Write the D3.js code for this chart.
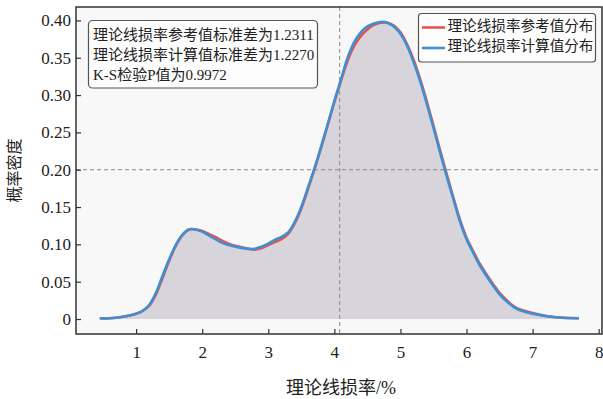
<!DOCTYPE html>
<html>
<head>
<meta charset="utf-8">
<script src="https://cdn.jsdelivr.net/npm/d3@7"></script>
<style>
  body { margin: 0; background: #fff; }
  svg { display: block; }
  text { font-family: "Liberation Serif", "Noto Sans CJK SC", serif; fill: #222; }
</style>
</head>
<body>
<div id="chart"></div>
<script>
const width = 603, height = 399;
const margin = { top: 7, right: 1, bottom: 65, left: 76 };

// 理论线损率 (%)
const rates = [0.45, 0.6, 0.8, 1.0, 1.1, 1.2, 1.3, 1.4, 1.5, 1.6, 1.7, 1.8, 1.9, 2.0, 2.1, 2.2, 2.3, 2.4, 2.5,
  2.6, 2.7, 2.8, 2.9, 3.0, 3.1, 3.2, 3.3, 3.4, 3.5, 3.6, 3.7, 3.8, 3.9, 4.0, 4.1, 4.2, 4.3, 4.4, 4.5,
  4.6, 4.7, 4.8, 4.9, 5.0, 5.1, 5.2, 5.3, 5.4, 5.5, 5.6, 5.7, 5.8, 5.9, 6.0, 6.1, 6.2, 6.3, 6.4, 6.5,
  6.6, 6.7, 6.8, 7.0, 7.2, 7.4, 7.7];
const refDensity = [0.001, 0.001, 0.003, 0.007, 0.011, 0.018, 0.033, 0.055, 0.078, 0.098, 0.112, 0.120, 0.120, 0.118, 0.114, 0.110, 0.105, 0.101, 0.098,
  0.096, 0.094, 0.093, 0.095, 0.099, 0.103, 0.107, 0.114, 0.128, 0.148, 0.174, 0.201, 0.230, 0.260, 0.291, 0.319, 0.346, 0.366, 0.379, 0.388,
  0.394, 0.397, 0.397, 0.393, 0.384, 0.368, 0.347, 0.321, 0.291, 0.259, 0.226, 0.194, 0.163, 0.133, 0.109, 0.091, 0.074, 0.060, 0.047, 0.035,
  0.026, 0.018, 0.013, 0.008, 0.004, 0.002, 0.001];
const calcDensity = [0.001, 0.001, 0.003, 0.007, 0.011, 0.019, 0.035, 0.058, 0.080, 0.099, 0.113, 0.120, 0.120, 0.117, 0.112, 0.107, 0.102, 0.099, 0.097,
  0.095, 0.094, 0.094, 0.097, 0.101, 0.106, 0.110, 0.116, 0.130, 0.150, 0.176, 0.202, 0.231, 0.261, 0.292, 0.321, 0.350, 0.371, 0.384, 0.392,
  0.396, 0.398, 0.397, 0.392, 0.382, 0.366, 0.344, 0.318, 0.288, 0.256, 0.223, 0.191, 0.161, 0.131, 0.107, 0.089, 0.072, 0.058, 0.045, 0.033,
  0.024, 0.017, 0.012, 0.007, 0.004, 0.002, 0.001];

const xTicks = [1, 2, 3, 4, 5, 6, 7, 8];
const yTicks = [0, 0.05, 0.10, 0.15, 0.20, 0.25, 0.30, 0.35, 0.40];
const seriesNames = ["理论线损率参考值分布", "理论线损率计算值分布"];
const seriesColors = ["#e5534b", "#3f8fd2"];
const statLines = ["理论线损率参考值标准差为1.2311", "理论线损率计算值标准差为1.2270", "K-S检验P值为0.9972"];
const refX = 4.08, refY = 0.20;

const svg = d3.select("#chart").append("svg")
  .attr("width", width).attr("height", height);

const x = d3.scaleLinear().domain([0.09, 8.05]).range([margin.left, width - margin.right]);
const y = d3.scaleLinear().domain([-0.0201, 0.418]).range([height - margin.bottom, margin.top]);

const plotW = width - margin.right - margin.left;
const plotH = height - margin.bottom - margin.top;

svg.append("rect")
  .attr("x", margin.left).attr("y", margin.top)
  .attr("width", plotW).attr("height", plotH)
  .attr("fill", "#f8f8f8");

const refData = rates.map((r, i) => ({ r, d: refDensity[i] }));
const calcData = rates.map((r, i) => ({ r, d: calcDensity[i] }));

const area = d3.area()
  .x(d => x(d.r)).y0(y(0)).y1(d => y(d.d))
  .curve(d3.curveCatmullRom);
svg.append("path").datum(calcData)
  .attr("d", area)
  .attr("fill", "#d8d4dc");

// dashed guides
svg.append("line")
  .attr("x1", x(refX)).attr("x2", x(refX))
  .attr("y1", margin.top).attr("y2", margin.top + plotH)
  .attr("stroke", "#8a8a8a").attr("stroke-width", 1).attr("stroke-dasharray", "4,3");
svg.append("line")
  .attr("x1", margin.left).attr("x2", margin.left + plotW)
  .attr("y1", y(refY)).attr("y2", y(refY))
  .attr("stroke", "#8a8a8a").attr("stroke-width", 1).attr("stroke-dasharray", "4,3");

const line = d3.line()
  .x(d => x(d.r)).y(d => y(d.d))
  .curve(d3.curveCatmullRom);
svg.append("path").datum(refData)
  .attr("d", line).attr("fill", "none")
  .attr("stroke", seriesColors[0]).attr("stroke-width", 2.6);
svg.append("path").datum(calcData)
  .attr("d", line).attr("fill", "none")
  .attr("stroke", seriesColors[1]).attr("stroke-width", 2.6);

// axes (ticks inward)
const xAxis = svg.append("g")
  .attr("transform", `translate(0,${height - margin.bottom})`)
  .call(d3.axisBottom(x).tickValues(xTicks).tickSizeInner(-5).tickSizeOuter(0).tickPadding(12));
const yAxis = svg.append("g")
  .attr("transform", `translate(${margin.left},0)`)
  .call(d3.axisLeft(y).tickValues(yTicks).tickSizeInner(-5).tickSizeOuter(0).tickPadding(5)
    .tickFormat(d => d === 0 ? "0" : d3.format(".2f")(d)));
[xAxis, yAxis].forEach(a => {
  a.select(".domain").remove();
  a.selectAll(".tick line").attr("stroke", "#333").attr("stroke-width", 1.2);
  a.selectAll(".tick text").attr("fill", "#222")
    .style("font-size", "17px")
    .style("font-family", "'Liberation Serif', serif");
});

svg.append("rect")
  .attr("x", margin.left).attr("y", margin.top)
  .attr("width", plotW).attr("height", plotH)
  .attr("fill", "none").attr("stroke", "#333").attr("stroke-width", 1.5);

// axis titles
svg.append("text")
  .attr("transform", `translate(20,${(margin.top + height - margin.bottom) / 2}) rotate(-90)`)
  .attr("text-anchor", "middle")
  .style("font-size", "16px")
  .text("概率密度");
svg.append("text")
  .attr("x", 341).attr("y", 394)
  .attr("text-anchor", "middle")
  .style("font-size", "18px")
  .text("理论线损率/%");

// stats box
svg.append("rect")
  .attr("x", 88.5).attr("y", 20.5).attr("width", 229).attr("height", 67.5)
  .attr("rx", 4)
  .attr("fill", "#fdfdfd").attr("stroke", "#555").attr("stroke-width", 1.2);
svg.selectAll(".stat")
  .data(statLines)
  .join("text")
    .attr("class", "stat")
    .attr("x", 93)
    .attr("y", (d, i) => 37 + i * 20)
    .attr("dominant-baseline", "middle")
    .style("font-size", "15px")
    .text(d => d);

// legend
svg.append("rect")
  .attr("x", 418.5).attr("y", 13.5).attr("width", 177).attr("height", 48.5)
  .attr("rx", 3)
  .attr("fill", "#fdfdfd").attr("stroke", "#555").attr("stroke-width", 1.2);
const legendRows = svg.selectAll(".legend-row")
  .data(seriesNames)
  .join("g")
    .attr("class", "legend-row")
    .attr("transform", (d, i) => `translate(0,${27.5 + i * 20.5})`);
legendRows.append("line")
  .attr("x1", 422).attr("x2", 445)
  .attr("stroke", (d, i) => seriesColors[i]).attr("stroke-width", 2.6);
legendRows.append("text")
  .attr("x", 447.5)
  .attr("dominant-baseline", "middle")
  .style("font-size", "14.6px")
  .text(d => d);
</script>
</body>
</html>
